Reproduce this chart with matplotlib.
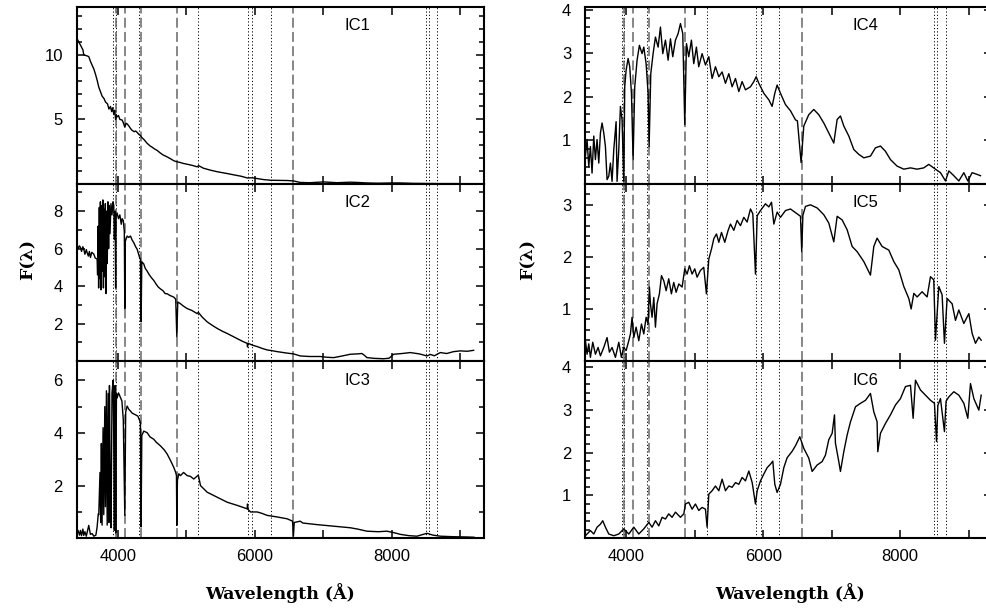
import numpy as np
import matplotlib
matplotlib.use('Agg')
import matplotlib.pyplot as plt
from matplotlib.ticker import MultipleLocator

plt.rcParams['font.family'] = ['Liberation Sans', 'DejaVu Sans']

#Spectra (wavelength in A, flux)
ic1_wl = [3400, 3430, 3460, 3479, 3490, 3503, 3530, 3560, 3577, 3600, 3625, 3650, 3674, 3700, 3722, 3750,
          3771, 3800, 3820, 3850, 3870, 3893, 3910, 3925, 3941, 3955, 3968, 3980, 3990, 4010, 4030, 4063,
          4080, 4102, 4120, 4136, 4160, 4185, 4209, 4240, 4260, 4282, 4304, 4331, 4350, 4380, 4428, 4470,
          4500, 4540, 4574, 4620, 4660, 4720, 4770, 4817, 4861, 4900, 4950, 5012, 5080, 5158, 5180, 5250,
          5353, 5450, 5596, 5700, 5800, 5888, 5960, 6034, 6130, 6229, 6350, 6472, 6563, 6662, 6800, 7003,
          7200, 7393, 7500, 7636, 7800, 8000, 8122, 8300, 8500, 8700, 8900, 9100, 9200]
ic1_flux = [11.3, 11.0, 10.7, 10.5, 10.4, 10.0, 9.95, 9.9, 9.85, 9.5, 9.2, 8.9, 8.5, 8.0, 7.5, 7.1,
            6.8, 6.6, 6.35, 6.2, 5.8, 6.0, 5.6, 5.9, 5.4, 5.7, 5.0, 5.3, 5.2, 5.3, 5.0, 4.95,
            4.75, 4.4, 4.7, 4.65, 4.5, 4.3, 4.15, 4.05, 4.1, 4.0, 3.85, 3.75, 3.6, 3.45, 3.15, 2.95,
            2.85, 2.7, 2.6, 2.4, 2.25, 2.1, 1.95, 1.8, 1.72, 1.68, 1.6, 1.53, 1.45, 1.33, 1.42, 1.22,
            1.07, 0.95, 0.81, 0.7, 0.6, 0.47, 0.48, 0.42, 0.34, 0.29, 0.28, 0.27, 0.24, 0.12, 0.1, 0.16,
            0.1, 0.14, 0.12, 0.08, 0.06, 0.08, 0.08, 0.05, 0.04, 0.03, 0.03, 0.02, 0.02]

ic2_wl = [3400, 3420, 3440, 3455, 3470, 3490, 3503, 3520, 3540, 3552, 3570, 3585, 3601, 3620, 3649, 3670,
          3698, 3705, 3712, 3720, 3730, 3738, 3746, 3754, 3764, 3772, 3782, 3790, 3800, 3808, 3818, 3826,
          3836, 3846, 3856, 3866, 3876, 3886, 3900, 3915, 3930, 3941, 3950, 3960, 3968, 3975, 3990, 4010,
          4030, 4050, 4063, 4080, 4095, 4102, 4110, 4136, 4160, 4185, 4210, 4233, 4260, 4282, 4304, 4320,
          4331, 4340, 4350, 4379, 4400, 4428, 4460, 4490, 4525, 4560, 4590, 4622, 4660, 4690, 4720, 4760,
          4790, 4817, 4845, 4861, 4875, 4914, 4950, 5012, 5080, 5158, 5175, 5230, 5304, 5380, 5450, 5520,
          5596, 5670, 5742, 5820, 5888, 5893, 5900, 5960, 6034, 6100, 6180, 6250, 6326, 6400, 6472, 6565,
          6662, 6800, 6954, 7050, 7149, 7250, 7393, 7500, 7563, 7600, 7636, 7750, 7880, 7960, 8025, 8150,
          8268, 8400, 8512, 8560, 8620, 8706, 8800, 8900, 8998, 9100, 9193]
ic2_flux = [6.3, 6.0, 6.15, 6.06, 5.85, 6.1, 5.97, 5.7, 5.95, 5.79, 5.6, 5.85, 5.53, 5.8, 5.71, 5.5,
            5.44, 4.6, 7.2, 3.9, 8.2, 4.4, 8.5, 3.8, 8.3, 4.8, 8.6, 3.9, 8.1, 4.5, 8.4, 3.6,
            8.0, 5.2, 8.5, 6.0, 8.3, 6.8, 8.4, 7.8, 8.5, 8.3, 6.5, 8.0, 3.9, 7.7, 7.9, 7.6,
            7.8, 7.3, 7.6, 7.5, 6.9, 2.8, 6.4, 6.67, 6.6, 6.67, 6.45, 6.32, 6.1, 5.97, 5.7, 5.5,
            5.44, 2.1, 5.3, 5.18, 4.95, 4.8, 4.6, 4.45, 4.3, 4.1, 3.95, 3.85, 3.75, 3.6, 3.59, 3.5,
            3.45, 3.41, 3.3, 1.3, 3.15, 3.06, 2.95, 2.8, 2.7, 2.53, 2.6, 2.35, 2.09, 1.9, 1.74, 1.6,
            1.47, 1.33, 1.2, 1.05, 0.94, 0.75, 0.95, 0.85, 0.77, 0.68, 0.59, 0.55, 0.5, 0.46, 0.42, 0.38,
            0.27, 0.24, 0.24, 0.2, 0.18, 0.25, 0.36, 0.38, 0.4, 0.3, 0.18, 0.14, 0.12, 0.15, 0.36, 0.4,
            0.45, 0.38, 0.27, 0.35, 0.28, 0.45, 0.4, 0.5, 0.54, 0.52, 0.57]

ic3_wl = [3400, 3420, 3440, 3455, 3470, 3490, 3503, 3520, 3540, 3576, 3600, 3625, 3650, 3680, 3698, 3715,
          3722, 3740, 3750, 3760, 3770, 3785, 3795, 3810, 3820, 3834, 3845, 3860, 3870, 3878, 3890, 3902,
          3915, 3931, 3940, 3950, 3960, 3970, 3980, 3990, 4010, 4030, 4060, 4080, 4102, 4115, 4136, 4160,
          4185, 4210, 4250, 4292, 4330, 4340, 4350, 4379, 4428, 4470, 4525, 4560, 4622, 4680, 4720, 4770,
          4817, 4845, 4856, 4861, 4870, 4890, 4914, 4960, 5012, 5060, 5109, 5175, 5207, 5304, 5450, 5596,
          5742, 5888, 5893, 5900, 5937, 6034, 6100, 6180, 6326, 6472, 6550, 6563, 6575, 6662, 6700, 6905,
          7149, 7393, 7500, 7636, 7800, 7928, 8050, 8122, 8250, 8366, 8512, 8600, 8706, 8900, 9095, 9200]
ic3_flux = [0.18, 0.3, 0.12, 0.3, 0.1, 0.35, 0.11, 0.25, 0.08, 0.49, 0.15, 0.18, 0.08, 0.12, 0.43, 0.93,
            0.9, 2.5, 0.6, 3.6, 0.5, 4.2, 0.9, 5.0, 1.2, 5.6, 0.5, 5.5, 0.6, 5.8, 2.0, 0.4,
            5.5, 6.0, 4.0, 0.3, 5.8, 0.2, 5.5, 5.33, 5.52, 5.4, 5.21, 4.5, 0.87, 4.8, 5.02, 4.9,
            4.83, 4.75, 4.7, 4.64, 4.4, 0.43, 3.9, 4.07, 4.01, 3.85, 3.76, 3.65, 3.51, 3.35, 3.2, 2.95,
            2.69, 2.5, 2.38, 0.49, 2.2, 2.45, 2.38, 2.5, 2.38, 2.35, 2.25, 2.4, 2.0, 1.75, 1.56, 1.37,
            1.25, 1.12, 1.3, 1.1, 1.0, 1.0, 0.95, 0.87, 0.81, 0.74, 0.65, 0.08, 0.6, 0.65, 0.58, 0.52,
            0.46, 0.4, 0.35, 0.27, 0.25, 0.27, 0.2, 0.15, 0.1, 0.08, 0.19, 0.12, 0.08, 0.06, 0.05, 0.04]

ic4_wl = [3406, 3430, 3455, 3479, 3503, 3528, 3552, 3576, 3601, 3625, 3649, 3674, 3698, 3722, 3747, 3771,
          3795, 3820, 3854, 3868, 3893, 3917, 3941, 3966, 3980, 4000, 4029, 4053, 4078, 4102, 4126, 4160,
          4194, 4233, 4258, 4292, 4321, 4336, 4360, 4394, 4428, 4467, 4501, 4535, 4574, 4613, 4647, 4681,
          4720, 4759, 4793, 4827, 4856, 4881, 4914, 4953, 4987, 5026, 5060, 5109, 5158, 5207, 5255, 5304,
          5353, 5401, 5450, 5499, 5547, 5596, 5645, 5693, 5742, 5815, 5864, 5898, 5937, 6010, 6083, 6131,
          6170, 6204, 6253, 6326, 6399, 6472, 6500, 6554, 6593, 6666, 6739, 6812, 6885, 6958, 7031, 7080,
          7128, 7177, 7250, 7323, 7396, 7469, 7566, 7639, 7712, 7785, 7858, 7955, 8053, 8150, 8247, 8344,
          8417, 8515, 8588, 8661, 8710, 8783, 8856, 8929, 8987, 9050, 9123, 9172]
ic4_flux = [0.64, 1.02, 0.4, 0.86, 0.25, 1.1, 0.56, 1.02, 0.48, 1.17, 1.4, 1.17, 0.86, 0.1, 0.18, 0.48,
            0.06, 0.79, 1.43, 0.06, 0.79, 1.78, 1.47, 0.06, 2.23, 2.61, 2.88, 2.69, 2.08, 0.56, 2.23, 2.84,
            3.18, 2.99, 3.14, 2.76, 2.08, 0.86, 2.53, 2.99, 3.37, 3.14, 3.6, 2.99, 3.3, 2.84, 3.33, 2.92,
            3.3, 3.45, 3.68, 3.45, 1.36, 3.22, 2.92, 3.3, 2.76, 3.14, 2.69, 2.99, 2.73, 2.92, 2.42, 2.69,
            2.46, 2.57, 2.31, 2.53, 2.23, 2.42, 2.12, 2.35, 2.16, 2.23, 2.35, 2.46, 2.31, 2.08, 1.93, 1.78,
            2.08, 2.27, 2.08, 1.82, 1.68, 1.47, 1.45, 0.49, 1.33, 1.59, 1.71, 1.59, 1.4, 1.17, 0.94, 1.48,
            1.56, 1.33, 1.1, 0.79, 0.68, 0.6, 0.64, 0.83, 0.87, 0.75, 0.56, 0.41, 0.34, 0.37, 0.34, 0.37,
            0.45, 0.34, 0.26, 0.07, 0.3, 0.19, 0.07, 0.26, 0.07, 0.26, 0.22, 0.19]

ic5_wl = [3406, 3430, 3455, 3479, 3513, 3552, 3591, 3625, 3674, 3722, 3756, 3795, 3844, 3893, 3931, 3966,
          4000, 4039, 4063, 4087, 4112, 4146, 4185, 4224, 4258, 4292, 4321, 4340, 4355, 4379, 4404, 4428,
          4452, 4486, 4516, 4550, 4584, 4622, 4661, 4695, 4730, 4769, 4817, 4856, 4890, 4924, 4963, 5002,
          5036, 5085, 5133, 5172, 5207, 5246, 5280, 5319, 5353, 5392, 5440, 5489, 5523, 5572, 5620, 5669,
          5718, 5766, 5815, 5849, 5888, 5913, 5961, 6034, 6083, 6122, 6156, 6204, 6253, 6326, 6399, 6472,
          6545, 6563, 6580, 6618, 6691, 6788, 6885, 6958, 7031, 7080, 7153, 7226, 7299, 7372, 7469, 7566,
          7615, 7663, 7736, 7834, 7907, 7980, 8053, 8126, 8160, 8199, 8247, 8320, 8393, 8442, 8490, 8515,
          8564, 8612, 8646, 8685, 8758, 8807, 8856, 8929, 9002, 9050, 9099, 9148, 9182]
ic5_flux = [0.39, 0.13, 0.33, 0.07, 0.36, 0.13, 0.26, 0.1, 0.26, 0.45, 0.17, 0.26, 0.07, 0.36, 0.07, 0.26,
            0.2, 0.39, 0.52, 0.84, 0.45, 0.65, 0.39, 0.71, 0.52, 0.84, 0.71, 1.42, 1.1, 0.84, 1.22, 0.65,
            1.1, 1.29, 1.64, 1.54, 1.35, 1.58, 1.29, 1.51, 1.32, 1.48, 1.42, 1.77, 1.67, 1.83, 1.67, 1.77,
            1.61, 1.74, 1.8, 1.29, 1.96, 2.15, 2.35, 2.44, 2.28, 2.47, 2.28, 2.51, 2.63, 2.51, 2.7, 2.6,
            2.76, 2.67, 2.92, 2.83, 1.67, 2.79, 2.89, 3.02, 2.96, 3.05, 2.63, 2.86, 2.76, 2.89, 2.92, 2.85,
            2.78, 2.1, 2.8, 2.97, 3.0, 2.94, 2.81, 2.65, 2.29, 2.78, 2.71, 2.52, 2.2, 2.1, 1.91, 1.65,
            2.2, 2.36, 2.2, 2.13, 1.91, 1.75, 1.43, 1.2, 1.0, 1.3, 1.23, 1.33, 1.23, 1.62, 1.56, 0.4,
            1.43, 1.27, 0.34, 1.2, 1.1, 0.78, 0.98, 0.72, 0.91, 0.53, 0.34, 0.46, 0.4]

ic6_wl = [3406, 3479, 3528, 3576, 3625, 3659, 3698, 3747, 3820, 3893, 3966, 4039, 4112, 4185, 4258, 4331,
          4379, 4428, 4477, 4525, 4574, 4622, 4671, 4720, 4793, 4842, 4866, 4914, 4963, 5012, 5060, 5109,
          5158, 5182, 5207, 5255, 5304, 5353, 5401, 5450, 5499, 5547, 5596, 5645, 5693, 5742, 5791, 5840,
          5888, 5913, 5961, 6010, 6059, 6107, 6141, 6170, 6204, 6253, 6302, 6350, 6423, 6472, 6535, 6593,
          6666, 6715, 6788, 6861, 6909, 6958, 7007, 7041, 7055, 7104, 7128, 7177, 7226, 7275, 7348, 7421,
          7494, 7566, 7615, 7663, 7673, 7712, 7785, 7858, 7931, 8004, 8077, 8150, 8189, 8223, 8296, 8369,
          8442, 8500, 8530, 8550, 8588, 8646, 8670, 8710, 8783, 8856, 8929, 8987, 9026, 9075, 9148, 9182]
ic6_flux = [0.06, 0.18, 0.1, 0.26, 0.33, 0.41, 0.26, 0.1, 0.06, 0.1, 0.22, 0.1, 0.26, 0.1, 0.22, 0.37,
            0.26, 0.41, 0.29, 0.49, 0.45, 0.57, 0.49, 0.61, 0.49, 0.57, 0.8, 0.84, 0.68, 0.8, 0.65, 0.72,
            0.68, 0.26, 1.03, 1.11, 1.22, 1.11, 1.38, 1.11, 1.22, 1.19, 1.3, 1.26, 1.42, 1.34, 1.57, 1.3,
            0.8, 1.11, 1.34, 1.5, 1.65, 1.73, 1.8, 1.26, 1.07, 1.26, 1.65, 1.88, 2.03, 2.16, 2.37, 2.1,
            1.87, 1.56, 1.71, 1.79, 1.94, 2.3, 2.45, 2.88, 2.22, 1.79, 1.56, 2.02, 2.41, 2.72, 3.07, 3.15,
            3.22, 3.38, 2.95, 2.72, 2.02, 2.45, 2.68, 2.88, 3.11, 3.26, 3.54, 3.57, 2.8, 3.69, 3.46, 3.34,
            3.22, 3.15, 2.26, 3.1, 3.26, 2.49, 3.2, 3.3, 3.42, 3.34, 3.15, 2.8, 3.61, 3.26, 2.99, 3.34]

#Spectral feature markers
balmer_lines = [3970, 4102, 4340, 4861, 6563]
metal_lines = [3934, 3968, 4304, 5175, 5893, 5965, 6230, 8498, 8542, 8662]

panels = [
    # name, wl, flux, ymax, labelled ticks, minor step, column, row
    ('IC1', ic1_wl, ic1_flux, 13.7, [5, 10], 1, 0, 0),
    ('IC2', ic2_wl, ic2_flux, 9.45, [2, 4, 6, 8], 1, 0, 1),
    ('IC3', ic3_wl, ic3_flux, 6.72, [2, 4, 6], 1, 0, 2),
    ('IC4', ic4_wl, ic4_flux, 4.06, [1, 2, 3, 4], 0.2, 1, 0),
    ('IC5', ic5_wl, ic5_flux, 3.40, [1, 2, 3], 0.2, 1, 1),
    ('IC6', ic6_wl, ic6_flux, 4.13, [1, 2, 3, 4], 0.2, 1, 2),
]

W, H = 986, 612
fig = plt.figure(figsize=(W / 100, H / 100), dpi=100)
col_left = [76.7, 585]
panel_w = 407
row_bottom = [184, 361, 538.3]
panel_h = 177

for name, wl, flux, ymax, yt, minor, col, row in panels:
    ax = fig.add_axes([col_left[col] / W, (H - row_bottom[row]) / H, panel_w / W, panel_h / H])
    for lam in metal_lines:
        ax.axvline(lam, color='k', lw=0.7, dashes=(1.2, 2.2), zorder=1)
    for lam in balmer_lines:
        ax.axvline(lam, color='#666666', lw=1.1, dashes=(6.5, 2.8), zorder=1)
    ax.plot(wl, flux, color='k', lw=1.0, zorder=2)

    ax.set_xlim(3400, 9340)
    ax.set_ylim(0, ymax)
    ax.set_yticks(yt)
    ax.yaxis.set_minor_locator(MultipleLocator(minor))
    ax.xaxis.set_major_locator(MultipleLocator(2000))
    ax.xaxis.set_minor_locator(MultipleLocator(1000))
    ax.tick_params(which='both', direction='in', top=True, right=True, width=1.1)
    ax.tick_params(axis='y', which='major', length=6, pad=10, labelsize=12)
    ax.tick_params(axis='y', which='minor', length=3.5)
    ax.tick_params(axis='x', which='both', length=6, pad=8, labelsize=12)
    if row < 2:
        ax.tick_params(axis='x', labelbottom=False)
    for sp in ax.spines.values():
        sp.set_linewidth(1.5)

    ax.text(0.689, 0.893, name, transform=ax.transAxes, ha='center', va='center', fontsize=12)

#Axis labels
lab_font = dict(family='DejaVu Serif', fontweight='bold', fontsize=12.5)
fig.text(28 / W, 1 - 260 / H, 'F(λ)', rotation=90, ha='center', va='center', **lab_font)
fig.text(528 / W, 1 - 260 / H, 'F(λ)', rotation=90, ha='center', va='center', **lab_font)
fig.text(280 / W, 1 - 593 / H, 'Wavelength (Å)', ha='center', va='center', **lab_font)
fig.text(790 / W, 1 - 593 / H, 'Wavelength (Å)', ha='center', va='center', **lab_font)

fig.savefig('out.png', dpi=100)
